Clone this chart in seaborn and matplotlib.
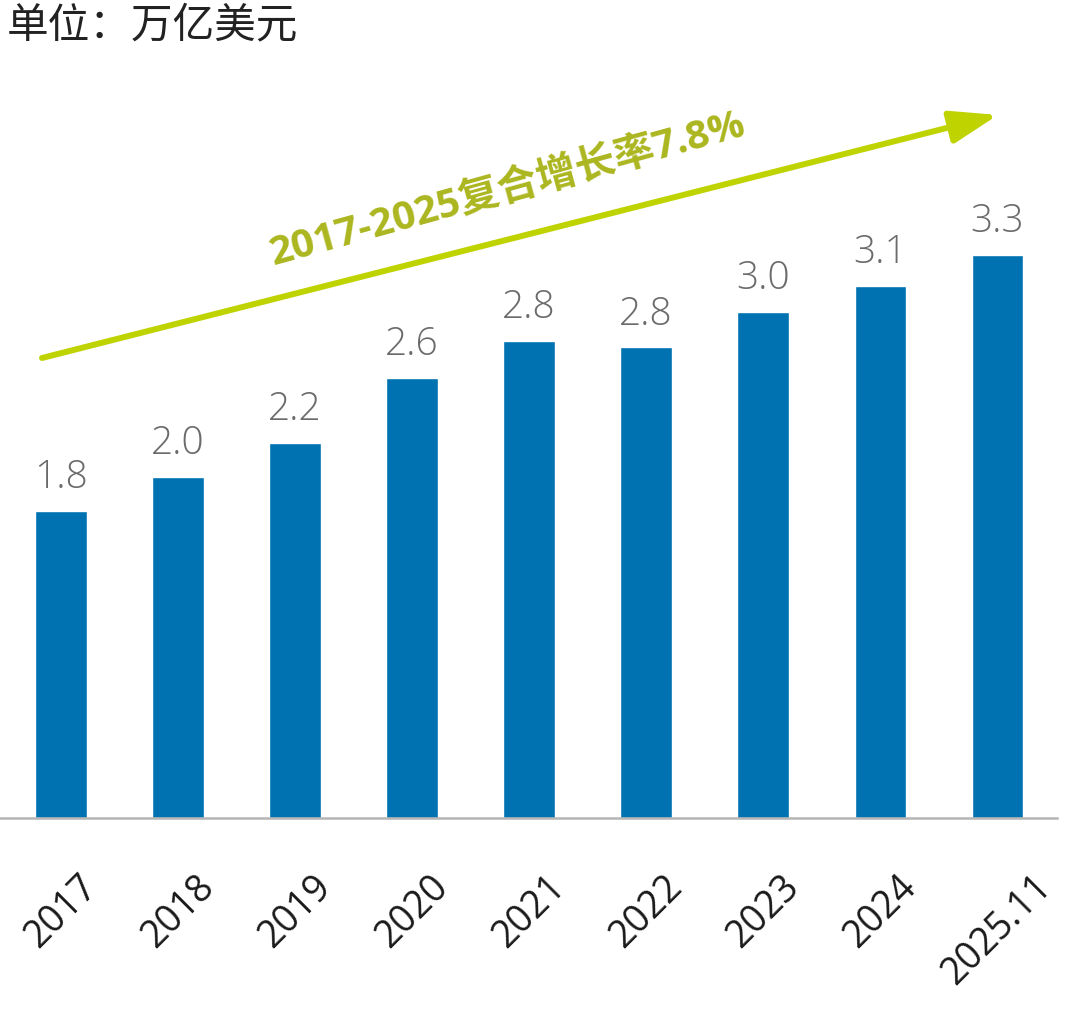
import pandas as pd
import matplotlib.pyplot as plt
import seaborn as sns

# data
years = ['2017', '2018', '2019', '2020', '2021', '2022', '2023', '2024', '2025.11']
values = [1.8, 2.0, 2.2, 2.58, 2.8, 2.76, 2.97, 3.12, 3.3]
value_labels = ['1.8', '2.0', '2.2', '2.6', '2.8', '2.8', '3.0', '3.1', '3.3']
unit_text = '单位：万亿美元'
cagr_text = '2017-2025复合增长率7.8%'

sns.set_style('white')
plt.rcParams['font.family'] = ['Open Sans', 'Noto Sans CJK SC', 'DejaVu Sans']

df = pd.DataFrame({'year': years, 'value': values})

fig = plt.figure(figsize=(10.8, 10.11), dpi=100)
ax = fig.add_axes([0.0, 0.1909, 0.9787, 0.71])

sns.barplot(data=df, x='year', y='value', color='#0072b1', saturation=1,
            width=0.44, ax=ax)

ax.set_xlim(-0.521, 8.51)
ax.set_ylim(0, 4.21)

for i, (v, lab) in enumerate(zip(values, value_labels)):
    ax.annotate(lab, (i, v), xytext=(0, 10), textcoords='offset points',
                ha='center', va='bottom', fontsize=28, fontweight='light',
                color='#6b6b6b')

ax.set_xlabel('')
ax.set_ylabel('')
ax.set_yticks([])
ax.tick_params(axis='x', length=0, pad=36, labelsize=27, labelcolor='#1a1a1a')
for t in ax.get_xticklabels():
    t.set_rotation(45)
    t.set_ha('center')

for side in ['top', 'right', 'left']:
    ax.spines[side].set_visible(False)
ax.spines['bottom'].set_color('#b5b5b5')
ax.spines['bottom'].set_linewidth(1.8)

# unit label
fig.text(0.006, 0.974, unit_text, fontsize=30, color='#222222', va='center',
         ha='left', fontweight='light',
         family=['Noto Sans CJK SC', 'DejaVu Sans'])

# growth arrow
fig.add_artist(plt.matplotlib.patches.FancyArrowPatch(
    (0.0389, 0.6459), (0.924, 0.8863), transform=fig.transFigure,
    arrowstyle='-|>,head_length=1.45,head_width=0.5', mutation_scale=20,
    linewidth=4.3, color='#bfd300', shrinkA=0, shrinkB=0))

fig.text(0.470, 0.812, cagr_text, fontsize=29, fontweight='bold', color='#abb61f',
         rotation=15.4, ha='center', va='center', rotation_mode='anchor')

fig.savefig('out.png', dpi=100)
